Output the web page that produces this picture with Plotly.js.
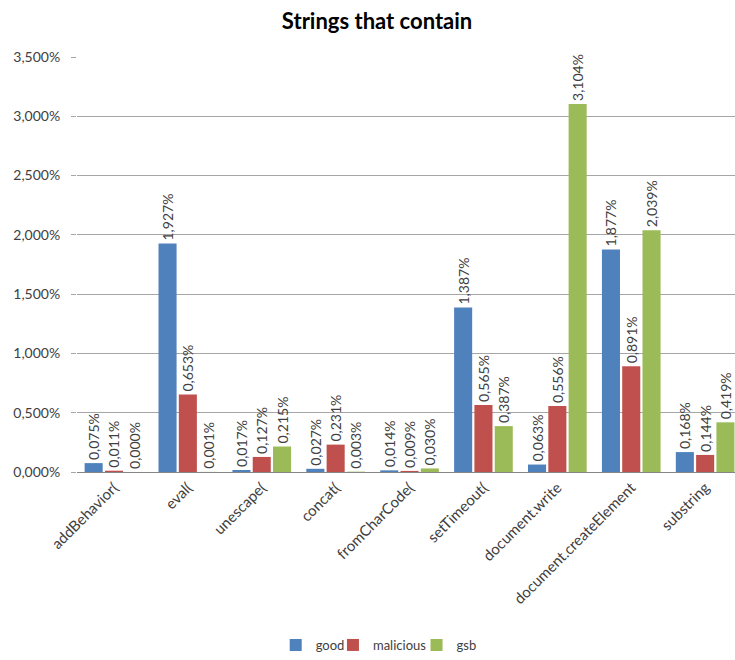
<!DOCTYPE html>
<html>
<head>
<meta charset="utf-8">
<script src="https://cdn.plot.ly/plotly-3.0.1.min.js"></script>
<style>html,body{margin:0;padding:0;background:#fff;}#chart{width:735px;height:660px;}</style>
</head>
<body>
<div id="chart"></div>
<script>
const categories = ["addBehavior(", "eval(", "unescape(", "concat(", "fromCharCode(", "setTimeout(", "document.write", "document.createElement", "substring"];
const good = [0.075, 1.927, 0.017, 0.027, 0.014, 1.387, 0.063, 1.877, 0.168];
const malicious = [0.011, 0.653, 0.127, 0.231, 0.009, 0.565, 0.556, 0.891, 0.144];
const gsb = [0.000, 0.001, 0.215, 0.003, 0.030, 0.387, 3.104, 2.039, 0.419];
const seriesNames = ["good", "malicious", "gsb"];
const seriesColors = ["#4F81BD", "#C0504D", "#9BBB59"];
const yTicks = [0, 0.5, 1, 1.5, 2, 2.5, 3, 3.5];
const yTickText = yTicks.map(v => v.toFixed(3).replace(".", ",") + "%");

const FONT = "Lato, 'Open Sans', sans-serif";
const legendIds = ["legend", "legend2", "legend3"];
const legendX = [0.302, 0.389, 0.516];

const traces = [good, malicious, gsb].map((vals, i) => ({
  type: "bar",
  name: seriesNames[i],
  legend: legendIds[i],
  x: categories,
  y: vals,
  marker: {color: seriesColors[i]},
  texttemplate: "%{y:.3f}%\u00a0\u00a0",
  textposition: "outside",
  textangle: -90,
  constraintext: "none",
  cliponaxis: false,
  textfont: {family: FONT, size: 14, color: "#404040"},
  hoverinfo: "none"
}));

const layout = {
  width: 735, height: 660,
  margin: {l: 77, r: 0, t: 57, b: 187},
  separators: ",.",
  paper_bgcolor: "#ffffff",
  plot_bgcolor: "#ffffff",
  title: {text: "<b>Strings that contain</b>", x: 0.513, xanchor: "center", y: 0.968, yanchor: "middle",
          font: {family: FONT, size: 22, color: "#000000"}},
  barmode: "group",
  bargap: 0.176,
  bargroupgap: 0.11,
  showlegend: true,
  xaxis: {
    type: "category",
    range: [-0.5, 8.404],
    tickangle: -45,
    tickfont: {family: FONT, size: 15, color: "#404040"},
    showline: true, linecolor: "#868686", linewidth: 1,
    showgrid: false, ticks: "", fixedrange: true
  },
  yaxis: {
    range: [0, 3.5],
    tickvals: yTicks,
    ticktext: yTickText,
    tickfont: {family: FONT, size: 14, color: "#404040"},
    showgrid: true, gridcolor: "#A6A6A6", gridwidth: 1,
    zeroline: false,
    showline: false,
    ticks: "outside", ticklen: 5, tickcolor: "#A6A6A6",
    ticklabelstandoff: 8,
    fixedrange: true
  }
};
legendIds.forEach((id, i) => {
  layout[id] = {orientation: "h", x: legendX[i], xanchor: "left", y: -0.416, yanchor: "middle",
                font: {family: FONT, size: 13, color: "#404040"}, itemwidth: 30,
                bgcolor: "rgba(0,0,0,0)"};
});

Plotly.newPlot("chart", traces, layout, {displayModeBar: false, staticPlot: true});
</script>
</body>
</html>
